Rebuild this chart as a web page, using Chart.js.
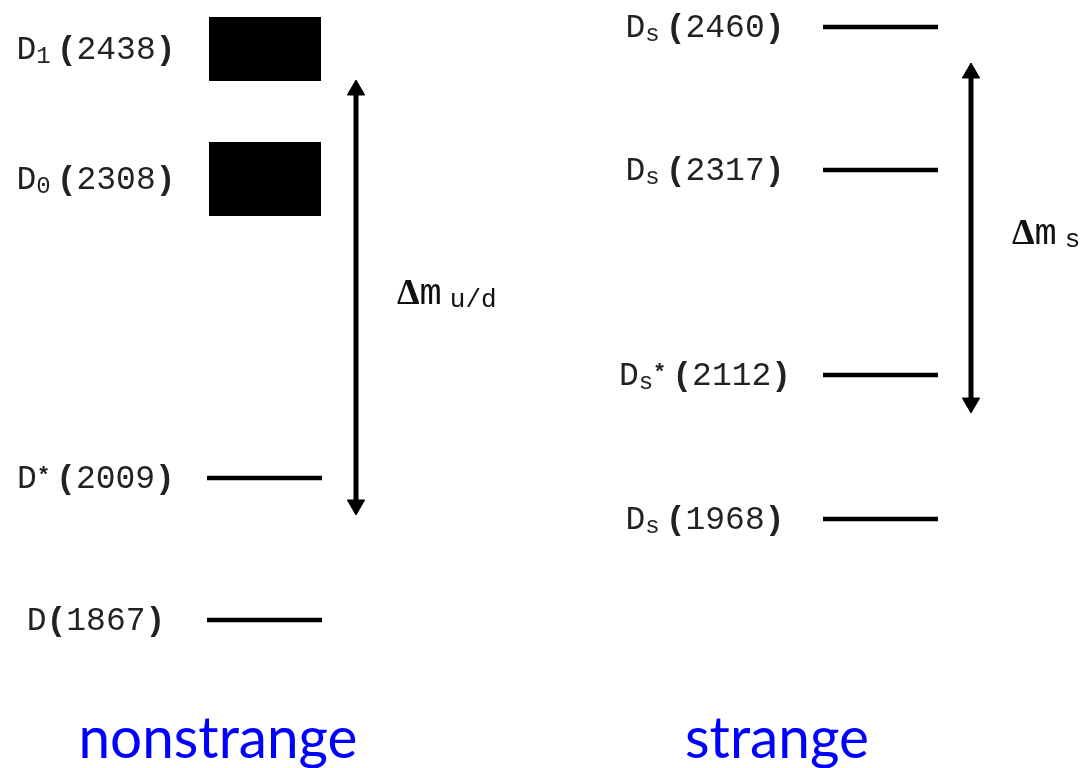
<!DOCTYPE html>
<html><head><meta charset="utf-8">
<script src="https://cdn.jsdelivr.net/npm/chart.js@4.4.1/dist/chart.umd.min.js"></script>
<style>html,body{margin:0;padding:0;background:#fff;}#wrap{width:1084px;height:768px;position:relative;}</style>
</head><body><div id="wrap"><canvas id="c"></canvas></div>
<script>
// ---- data (masses in MeV) ----
const nonstrangeBase = ['D', 'D', 'D', 'D'];
const nonstrangeSub = ['', '', '0', '1'];
const nonstrangeSup = ['', '*', '', ''];
const nonstrangeMass = [1867, 2009, 2308, 2438];
const nonstrangeHalfWidth = [0, 0, 37, 32];
const strangeBase = ['D', 'D', 'D', 'D'];
const strangeSub = ['s', 's', 's', 's'];
const strangeSup = ['', '*', '', ''];
const strangeMass = [1968, 2112, 2317, 2460];
const strangeHalfWidth = [0, 0, 0, 0];
const nonstrangeArrow = [1982, 2397];
const strangeArrow = [2084, 2414];
const deltaSymbols = ['Δm', 'Δm'];
const deltaSubs = ['u/d', 's'];
const groupTitles = ['nonstrange', 'strange'];

// ---- layout ----
const groups = [
  {base: nonstrangeBase, sub: nonstrangeSub, sup: nonstrangeSup, mass: nonstrangeMass, hw: nonstrangeHalfWidth, arrow: nonstrangeArrow,
   x0: 207, x1: 322, labelX: 96, arrowX: 356, deltaX: 397, titleX: 218, titleW: 279},
  {base: strangeBase, sub: strangeSub, sup: strangeSup, mass: strangeMass, hw: strangeHalfWidth, arrow: strangeArrow,
   x0: 823, x1: 938, labelX: 705, arrowX: 971, deltaX: 1012, titleX: 777, titleW: 184}
];

const datasets = [];
groups.forEach(g => {
  g.mass.forEach((m, i) => {
    if (g.hw[i] > 0) {
      datasets.push({type: 'line', data: [
        {x: g.x0 + 2, y: m + g.hw[i]}, {x: g.x1 - 1, y: m + g.hw[i]},
        {x: g.x1 - 1, y: m - g.hw[i]}, {x: g.x0 + 2, y: m - g.hw[i]}, {x: g.x0 + 2, y: m + g.hw[i]}],
        borderColor: '#000', borderWidth: 0, backgroundColor: '#000', fill: 'shape', pointRadius: 0, tension: 0});
    } else {
      datasets.push({type: 'line', data: [{x: g.x0, y: m}, {x: g.x1, y: m}],
        borderColor: '#000', borderWidth: 4.5, borderCapStyle: 'butt', pointRadius: 0, fill: false});
    }
  });
  const top = Math.max(...g.arrow), bot = Math.min(...g.arrow);
  datasets.push({type: 'line', data: [{x: g.arrowX, y: top}, {x: g.arrowX, y: bot}],
    borderColor: '#000', borderWidth: 5, borderCapStyle: 'butt', fill: false,
    pointStyle: 'triangle', pointRadius: 10, pointRotation: [0, 180],
    pointBackgroundColor: '#000', pointBorderColor: '#000', pointBorderWidth: 1});
});

const MONO = '"Liberation Mono", "Courier New", monospace';

function drawParts(ctx, parts, cx, baseline) {
  let total = 0;
  parts.forEach(p => { ctx.font = p.font; p.w = p.t ? ctx.measureText(p.t).width : 0; total += p.w + (p.gap || 0); });
  let x = cx - total / 2;
  parts.forEach(p => {
    ctx.font = p.font;
    if (p.t) ctx.fillText(p.t, x, baseline + (p.dy || 0));
    x += p.w + (p.gap || 0);
  });
}

const labelPlugin = {
  id: 'labels',
  afterDatasetsDraw(chart) {
    const ctx = chart.ctx, ys = chart.scales.y;
    ctx.save();
    ctx.fillStyle = '#222';
    ctx.textBaseline = 'alphabetic';
    ctx.textAlign = 'left';
    groups.forEach((g, gi) => {
      g.mass.forEach((m, i) => {
        const py = ys.getPixelForValue(m);
        const parts = [{t: g.base[i], font: '33px ' + MONO}];
        const hasExtra = g.sub[i] || g.sup[i];
        if (g.sub[i]) parts.push({t: g.sub[i], font: '24px ' + MONO, dy: 4});
        if (g.sup[i]) parts.push({t: g.sup[i], font: 'bold 22px ' + MONO, dy: -6});
        parts.push({t: '', font: '33px ' + MONO, gap: hasExtra ? 6 : 0});
        parts.push({t: '(', font: 'bold 33px ' + MONO});
        parts.push({t: String(m), font: '33px ' + MONO});
        parts.push({t: ')', font: 'bold 33px ' + MONO});
        drawParts(ctx, parts, g.labelX, py + 10);
      });
      // delta label at arrow midpoint
      const mid = (ys.getPixelForValue(g.arrow[0]) + ys.getPixelForValue(g.arrow[1])) / 2;
      ctx.fillStyle = '#111';
      ctx.font = 'bold 36px "Liberation Serif", serif';
      const dW = ctx.measureText('Δ').width;
      ctx.fillText(deltaSymbols[gi][0], g.deltaX, mid + 6);
      ctx.font = '37px ' + MONO;
      ctx.fillText(deltaSymbols[gi].slice(1), g.deltaX + dW, mid + 6);
      const mW = ctx.measureText('m').width;
      ctx.font = '26px ' + MONO;
      ctx.fillText(deltaSubs[gi], g.deltaX + dW + mW + 8, mid + 9);
      ctx.fillStyle = '#222';
      // group title
      ctx.save();
      ctx.fillStyle = '#0000ff';
      ctx.font = '58px Lato, "DejaVu Sans", sans-serif';
      const tw = ctx.measureText(groupTitles[gi]).width;
      const sx = g.titleW / tw;
      ctx.translate(g.titleX, 758);
      ctx.scale(sx, 1);
      ctx.textAlign = 'center';
      ctx.fillText(groupTitles[gi], 0, 0);
      ctx.restore();
    });
    ctx.restore();
  }
};

new Chart(document.getElementById('c'), {
  type: 'line',
  data: {datasets},
  options: {
    responsive: true, maintainAspectRatio: false, animation: false,
    layout: {padding: 0, autoPadding: false},
    plugins: {legend: {display: false}, tooltip: {enabled: false}},
    scales: {
      x: {type: 'linear', min: 0, max: 1084, display: false},
      y: {type: 'linear', min: 1719, max: 2487, display: false}
    }
  },
  plugins: [labelPlugin]
});
</script></body></html>
